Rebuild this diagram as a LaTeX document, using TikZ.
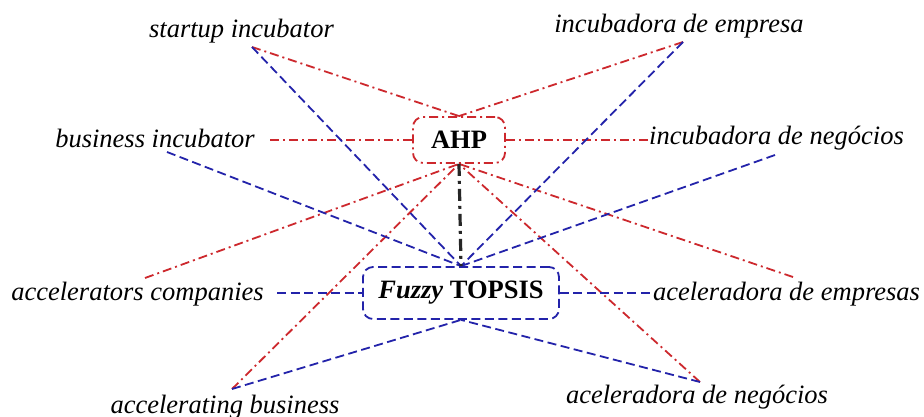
\documentclass[tikz,border=0pt]{standalone}
\usepackage{fontspec}
\setmainfont{Liberation Serif}
\definecolor{ahpred}{RGB}{205,40,45}
\definecolor{topblue}{RGB}{35,35,170}
\begin{document}
\begin{tikzpicture}[x=1pt,y=-1pt,
  lbl/.style={font=\fontsize{26.5}{30}\selectfont\itshape, inner sep=0pt, anchor=base},
  ahpline/.style={draw=ahpred, line width=1.8pt, dash pattern=on 9pt off 4pt on 2pt off 4pt},
  topline/.style={draw=topblue, line width=1.8pt, dash pattern=on 9pt off 4.5pt},
  linkline/.style={draw=black!85, line width=3.2pt, dash pattern=on 12pt off 5pt on 3pt off 5pt},
  ahpbox/.style={ahpline, rounded corners=10pt, minimum width=92pt, minimum height=46pt,
    inner sep=0pt, font=\fontsize{26.5}{30}\selectfont\bfseries},
  topbox/.style={topline, rounded corners=10pt, minimum width=196pt, minimum height=52pt,
    inner sep=0pt, font=\fontsize{26.5}{30}\selectfont\bfseries}
]
\useasboundingbox[fill=white] (0,0) rectangle (924,417);

% method boxes
\node[ahpbox] (ahp) at (459,140) {AHP};
\node[topbox] (top) at (461,293) {\textit{Fuzzy} TOPSIS};

% search terms
\node[lbl] (su) at (241.5,38) {startup incubator};
\node[lbl] (ie) at (679,33) {incubadora de empresa};
\node[lbl] (bi) at (155,148) {business incubator};
\node[lbl] (in) at (776.5,145) {incubadora de negócios};
\node[lbl] (ac) at (137.5,300) {accelerators companies};
\node[lbl] (ae) at (786.5,300) {aceleradora de empresas};
\node[lbl] (ab) at (225,413) {accelerating business};
\node[lbl] (an) at (697,403) {aceleradora de negócios};

% line ends next to the terms
\coordinate (suP) at (252,47);
\coordinate (ieP) at (683,42);
\coordinate (biR) at (270,140);
\coordinate (biB) at (167,152);
\coordinate (inR) at (648,140);
\coordinate (inB) at (775,155);
\coordinate (acR) at (145,278);
\coordinate (acB) at (277,293);
\coordinate (aeR) at (793,277);
\coordinate (aeB) at (650,293);
\coordinate (abP) at (232,389);
\coordinate (anP) at (700,382);

% AHP links
\draw[ahpline] (suP) -- (ahp.north);
\draw[ahpline] (ieP) -- (ahp.north);
\draw[ahpline] (biR) -- (ahp.west);
\draw[ahpline] (ahp.east) -- (inR);
\draw[ahpline] (acR) -- (ahp.south);
\draw[ahpline] (aeR) -- (ahp.south);
\draw[ahpline] (abP) -- (ahp.south);
\draw[ahpline] (anP) -- (ahp.south);

% Fuzzy TOPSIS links
\draw[topline] (suP) -- (top.north);
\draw[topline] (ieP) -- (top.north);
\draw[topline] (biB) -- (top.north);
\draw[topline] (inB) -- (top.north);
\draw[topline] (acB) -- (top.west);
\draw[topline] (top.east) -- (aeB);
\draw[topline] (abP) -- (top.south);
\draw[topline] (anP) -- (top.south);

% link between the two methods
\draw[linkline] (ahp.south) -- (top.north);
\end{tikzpicture}
\end{document}
